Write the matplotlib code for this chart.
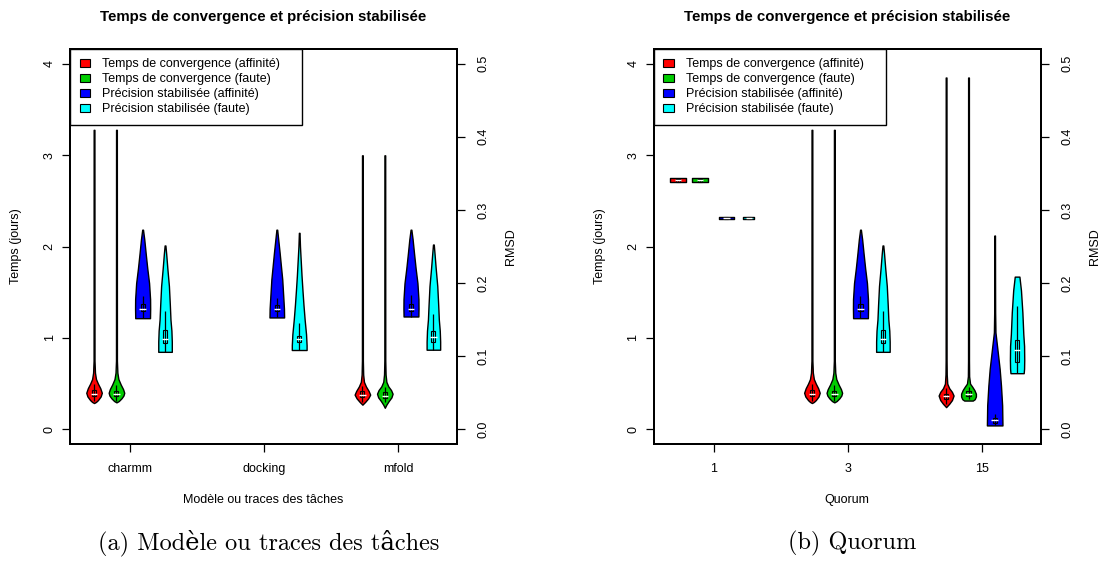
import matplotlib
matplotlib.use("Agg")
import matplotlib.pyplot as plt
from matplotlib.patches import Rectangle, Patch

plt.rcParams['font.family'] = ['Liberation Sans', 'DejaVu Sans']

# ---------------- data ----------------
TITLE = "Temps de convergence et précision stabilisée"
LEGEND_LABELS = ["Temps de convergence (affinité)", "Temps de convergence (faute)",
                 "Précision stabilisée (affinité)", "Précision stabilisée (faute)"]
COLORS = ["#FF0000", "#00CD00", "#0000FF", "#00FFFF"]
YTICKS_T = [0, 1, 2, 3, 4]
YTICKS_R = [0.0, 0.1, 0.2, 0.3, 0.4, 0.5]

# Panel (a) categories
CATS_A = ["charmm", "docking", "mfold"]
XLABEL_A = "Modèle ou traces des tâches"
CAPTION_A = "(a) Modèle ou traces des tâches"
# Panel (b) categories
CATS_B = ["1", "3", "15"]
XLABEL_B = "Quorum"
CAPTION_B = "(b) Quorum"

# violin profiles: value levels and relative half widths; stats = [low whisker, q1, median, q3, high whisker]
# --- charmm (also quorum 3) ---
T_AFF_CHARMM_Y = [0.288, 0.30, 0.32, 0.36, 0.40, 0.45, 0.50, 0.55, 0.62, 0.75, 3.276]
T_AFF_CHARMM_W = [0.0, 0.25, 0.5, 0.85, 1.0, 0.8, 0.5, 0.25, 0.12, 0.06, 0.05]
T_AFF_CHARMM_S = [0.31, 0.36, 0.39, 0.43, 0.50]
T_FAU_CHARMM_Y = [0.295, 0.31, 0.34, 0.37, 0.40, 0.44, 0.49, 0.55, 0.62, 0.75, 3.276]
T_FAU_CHARMM_W = [0.0, 0.3, 0.65, 0.9, 1.0, 0.85, 0.55, 0.25, 0.12, 0.06, 0.05]
T_FAU_CHARMM_S = [0.31, 0.36, 0.39, 0.42, 0.48]
R_AFF_CHARMM_Y = [0.152, 0.165, 0.178, 0.20, 0.22, 0.24, 0.26, 0.273]
R_AFF_CHARMM_W = [0.95, 0.97, 0.96, 0.83, 0.6, 0.4, 0.21, 0.05]
R_AFF_CHARMM_S = [0.152, 0.162, 0.165, 0.171, 0.183]
R_FAU_CHARMM_Y = [0.106, 0.12, 0.135, 0.15, 0.17, 0.196, 0.22, 0.24, 0.2514]
R_FAU_CHARMM_W = [0.87, 0.87, 0.82, 0.7, 0.62, 0.5, 0.3, 0.15, 0.05]
R_FAU_CHARMM_S = [0.106, 0.118, 0.1235, 0.1357, 0.162]
# --- docking ---
R_AFF_DOCK_Y = [0.153, 0.165, 0.178, 0.205, 0.242, 0.273]
R_AFF_DOCK_W = [0.94, 0.92, 0.85, 0.7, 0.36, 0.05]
R_AFF_DOCK_S = [0.153, 0.162, 0.165, 0.17, 0.18]
R_FAU_DOCK_Y = [0.1085, 0.115, 0.13, 0.15, 0.17, 0.19, 0.21, 0.23, 0.25, 0.2687]
R_FAU_DOCK_W = [0.95, 0.95, 0.88, 0.7, 0.55, 0.42, 0.3, 0.2, 0.1, 0.04]
R_FAU_DOCK_S = [0.1085, 0.119, 0.1235, 0.128, 0.146]
# --- mfold ---
T_AFF_MFOLD_Y = [0.27, 0.30, 0.34, 0.38, 0.42, 0.47, 0.52, 0.60, 0.75, 2.997]
T_AFF_MFOLD_W = [0.0, 0.35, 0.75, 1.0, 0.8, 0.45, 0.2, 0.1, 0.06, 0.05]
T_AFF_MFOLD_S = [0.30, 0.35, 0.38, 0.42, 0.47]
T_FAU_MFOLD_Y = [0.236, 0.27, 0.31, 0.35, 0.39, 0.43, 0.47, 0.52, 0.60, 0.75, 2.997]
T_FAU_MFOLD_W = [0.0, 0.2, 0.5, 0.85, 1.0, 0.8, 0.45, 0.2, 0.1, 0.06, 0.05]
T_FAU_MFOLD_S = [0.30, 0.34, 0.37, 0.41, 0.46]
R_AFF_MFOLD_Y = [0.1543, 0.165, 0.178, 0.20, 0.22, 0.24, 0.26, 0.273]
R_AFF_MFOLD_W = [0.95, 0.97, 0.96, 0.83, 0.6, 0.4, 0.21, 0.05]
R_AFF_MFOLD_S = [0.1543, 0.162, 0.165, 0.171, 0.184]
R_FAU_MFOLD_Y = [0.1089, 0.12, 0.135, 0.15, 0.17, 0.196, 0.22, 0.24, 0.2527]
R_FAU_MFOLD_W = [0.87, 0.87, 0.82, 0.7, 0.62, 0.5, 0.3, 0.15, 0.05]
R_FAU_MFOLD_S = [0.1089, 0.119, 0.1258, 0.1347, 0.158]
# --- quorum 1 ---
T_AFF_Q1_Y = [2.70, 2.745]
T_AFF_Q1_W = [1.0, 1.0]
T_AFF_Q1_S = [2.70, 2.71, 2.722, 2.735, 2.745]
T_FAU_Q1_Y = [2.70, 2.745]
T_FAU_Q1_W = [1.0, 1.0]
T_FAU_Q1_S = [2.70, 2.71, 2.722, 2.735, 2.745]
R_AFF_Q1_Y = [0.2875, 0.2905]
R_AFF_Q1_W = [1.0, 1.0]
R_AFF_Q1_S = [0.2875, 0.2882, 0.289, 0.2898, 0.2905]
R_FAU_Q1_Y = [0.2875, 0.2905]
R_FAU_Q1_W = [0.7, 0.7]
R_FAU_Q1_S = [0.2875, 0.2882, 0.289, 0.2898, 0.2905]
# --- quorum 15 ---
T_AFF_Q15_Y = [0.243, 0.28, 0.32, 0.37, 0.41, 0.45, 0.50, 0.60, 0.75, 3.848]
T_AFF_Q15_W = [0.0, 0.4, 0.75, 0.96, 0.75, 0.4, 0.15, 0.08, 0.06, 0.05]
T_AFF_Q15_S = [0.28, 0.33, 0.36, 0.39, 0.45]
T_FAU_Q15_Y = [0.315, 0.33, 0.36, 0.39, 0.43, 0.47, 0.50, 0.58, 0.75, 3.848]
T_FAU_Q15_W = [0.55, 0.8, 0.95, 0.95, 0.75, 0.45, 0.2, 0.08, 0.06, 0.05]
T_FAU_Q15_S = [0.33, 0.37, 0.39, 0.42, 0.46]
R_AFF_Q15_Y = [0.0054, 0.0327, 0.06, 0.0826, 0.105, 0.1326, 0.16, 0.20, 0.265]
R_AFF_Q15_W = [1.0, 0.96, 0.81, 0.64, 0.4, 0.1, 0.06, 0.05, 0.04]
R_AFF_Q15_S = [0.0054, 0.009, 0.0122, 0.016, 0.0214]
R_FAU_Q15_Y = [0.0768, 0.083, 0.095, 0.114, 0.13, 0.16, 0.19, 0.2088]
R_FAU_Q15_W = [0.85, 0.9, 0.92, 0.9, 0.8, 0.68, 0.5, 0.3]
R_FAU_Q15_S = [0.0768, 0.0917, 0.1085, 0.1225, 0.169]

# ---------------- layout / style ----------------
W_PX, H_PX = 1100, 562
fig = plt.figure(figsize=(11, 5.62), dpi=100)


def px_rect(x0, y0, x1, y1):
    return [x0 / W_PX, 1 - y1 / H_PX, (x1 - x0) / W_PX, (y1 - y0) / H_PX]


HALF_W = 0.058
BOX_W = 0.015
MED_W = 0.024
OFFS = [-0.267, -0.10, 0.095, 0.262]
XLIM = (0.556, 3.438)
YLIM_T = (-0.16, 4.16)
YLIM_R = (YLIM_T[0] / 8, YLIM_T[1] / 8)
FS = 9


def draw_violin(ax, x, ys, ws, stats, color):
    left = [x - w * HALF_W for w in ws]
    right = [x + w * HALF_W for w in ws]
    ax.fill_betweenx(ys, left, right, facecolor=color, edgecolor='black', linewidth=1.0, zorder=2)
    lo, q1, med, q3, hi = stats
    ax.vlines(x, lo, hi, colors='black', linewidth=0.9, zorder=3)
    ax.add_patch(Rectangle((x - BOX_W, q1), 2 * BOX_W, q3 - q1, fill=False,
                           edgecolor='black', linewidth=0.8, zorder=3))
    ax.hlines(med, x - MED_W, x + MED_W, colors='white', linewidth=1.0, zorder=4)


def make_panel(rect, cats, xlabel, caption, t_series, r_series, cx):
    ax = fig.add_axes(px_rect(*rect))
    ax.set_xlim(*XLIM)
    ax.set_ylim(*YLIM_T)
    ax.set_xticks(range(1, len(cats) + 1))
    ax.set_xticklabels(cats)
    ax.set_yticks(YTICKS_T)
    ax.set_yticklabels([str(v) for v in YTICKS_T])
    ax2 = ax.twinx()
    ax2.set_ylim(*YLIM_R)
    ax2.set_yticks(YTICKS_R)
    ax2.set_yticklabels(["%.1f" % v for v in YTICKS_R])
    for a in (ax, ax2):
        for s in a.spines.values():
            s.set_linewidth(1.4)
        a.tick_params(direction='out', length=5.5, width=0.9, labelsize=FS, pad=5)
    ax.tick_params(axis='x', pad=8)
    ax2.tick_params(axis='y', pad=9.5)
    for lbl in ax.get_yticklabels():
        lbl.set_rotation(90)
        lbl.set_va('center')
    for lbl in ax2.get_yticklabels():
        lbl.set_rotation(90)
        lbl.set_va('center')
    # time violins (left scale)
    for gi, group in enumerate(t_series):
        for si, item in enumerate(group):
            if item is None:
                continue
            ys, ws, st = item
            draw_violin(ax, gi + 1 + OFFS[si], ys, ws, st, COLORS[si])
    # rmsd violins (right scale)
    for gi, group in enumerate(r_series):
        for si, item in enumerate(group):
            if item is None:
                continue
            ys, ws, st = item
            draw_violin(ax2, gi + 1 + OFFS[si + 2], ys, ws, st, COLORS[si + 2])
    handles = [Patch(facecolor=c, edgecolor='black', linewidth=0.8) for c in COLORS]
    leg = ax2.legend(handles, LEGEND_LABELS, loc='upper left', bbox_to_anchor=(0, 0, 0.6, 1.0),
                     mode='expand', borderaxespad=0, fontsize=FS, fancybox=False, framealpha=1,
                     edgecolor='black', borderpad=0.75, labelspacing=0.24, handlelength=0.85,
                     handleheight=0.6, handletextpad=0.95)
    leg.get_frame().set_linewidth(1.0)
    x0, y0, x1, y1 = rect
    fig.text(cx / W_PX, 1 - 17.3 / H_PX, TITLE, ha='center', va='center', fontsize=10.8, fontweight='bold')
    fig.text(cx / W_PX, 1 - 500 / H_PX, xlabel, ha='center', va='center', fontsize=FS)
    fig.text((x0 - 54) / W_PX, 1 - ((y0 + y1) / 2) / H_PX, "Temps (jours)", rotation=90,
             ha='center', va='center', fontsize=FS)
    fig.text((x1 + 54) / W_PX, 1 - ((y0 + y1) / 2) / H_PX, "RMSD", rotation=90,
             ha='center', va='center', fontsize=FS)
    fig.text((cx + 5) / W_PX, 1 - 543 / H_PX, caption, ha='center', va='center', fontsize=17.5,
             family=['cmr10', 'DejaVu Serif'])
    return ax, ax2


t_a = [[(T_AFF_CHARMM_Y, T_AFF_CHARMM_W, T_AFF_CHARMM_S), (T_FAU_CHARMM_Y, T_FAU_CHARMM_W, T_FAU_CHARMM_S)],
       [None, None],
       [(T_AFF_MFOLD_Y, T_AFF_MFOLD_W, T_AFF_MFOLD_S), (T_FAU_MFOLD_Y, T_FAU_MFOLD_W, T_FAU_MFOLD_S)]]
r_a = [[(R_AFF_CHARMM_Y, R_AFF_CHARMM_W, R_AFF_CHARMM_S), (R_FAU_CHARMM_Y, R_FAU_CHARMM_W, R_FAU_CHARMM_S)],
       [(R_AFF_DOCK_Y, R_AFF_DOCK_W, R_AFF_DOCK_S), (R_FAU_DOCK_Y, R_FAU_DOCK_W, R_FAU_DOCK_S)],
       [(R_AFF_MFOLD_Y, R_AFF_MFOLD_W, R_AFF_MFOLD_S), (R_FAU_MFOLD_Y, R_FAU_MFOLD_W, R_FAU_MFOLD_S)]]
t_b = [[(T_AFF_Q1_Y, T_AFF_Q1_W, T_AFF_Q1_S), (T_FAU_Q1_Y, T_FAU_Q1_W, T_FAU_Q1_S)],
       [(T_AFF_CHARMM_Y, T_AFF_CHARMM_W, T_AFF_CHARMM_S), (T_FAU_CHARMM_Y, T_FAU_CHARMM_W, T_FAU_CHARMM_S)],
       [(T_AFF_Q15_Y, T_AFF_Q15_W, T_AFF_Q15_S), (T_FAU_Q15_Y, T_FAU_Q15_W, T_FAU_Q15_S)]]
r_b = [[(R_AFF_Q1_Y, R_AFF_Q1_W, R_AFF_Q1_S), (R_FAU_Q1_Y, R_FAU_Q1_W, R_FAU_Q1_S)],
       [(R_AFF_CHARMM_Y, R_AFF_CHARMM_W, R_AFF_CHARMM_S), (R_FAU_CHARMM_Y, R_FAU_CHARMM_W, R_FAU_CHARMM_S)],
       [(R_AFF_Q15_Y, R_AFF_Q15_W, R_AFF_Q15_S), (R_FAU_Q15_Y, R_FAU_Q15_W, R_FAU_Q15_S)]]

make_panel((70.3, 49, 457, 444), CATS_A, XLABEL_A, CAPTION_A, t_a, r_a, 263.6)
make_panel((654, 49, 1040.7, 444), CATS_B, XLABEL_B, CAPTION_B, t_b, r_b, 847.3)

fig.savefig("out.png", dpi=100)
